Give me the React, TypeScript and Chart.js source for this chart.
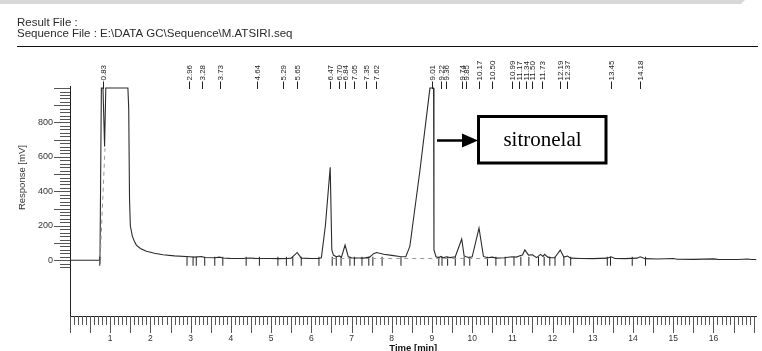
import React, { useEffect, useRef } from 'react';
import { Chart, registerables } from 'chart.js';

Chart.register(...registerables);

// ---- data ----
const headerLines = ['Result File :', 'Sequence File : E:\\DATA GC\\Sequence\\M.ATSIRI.seq'];
const yAxisTitle = 'Response [mV]';
const xAxisTitle = 'Time [min]';
const annotationText = 'sitronelal';

const xTickLabels = [1, 2, 3, 4, 5, 6, 7, 8, 9, 10, 11, 12, 13, 14, 15, 16];
const yTickLabels = [0, 200, 400, 600, 800];

const traceTime = [
  0, 0.74, 0.745, 0.78, 0.82, 0.86, 0.89, 1.44, 1.46, 1.48, 1.5, 1.55, 1.6, 1.65, 1.75, 1.9, 2.1, 2.31, 2.6, 2.98,
  3.1, 3.27, 3.35, 3.6, 3.72, 3.8, 3.97, 4.3, 4.45, 4.6, 4.75, 5.0, 5.2, 5.4, 5.5, 5.65, 5.75, 6.0, 6.19, 6.25,
  6.35, 6.47, 6.51, 6.55, 6.62, 6.7, 6.75, 6.84, 6.92, 7.0, 7.1, 7.3, 7.45, 7.55, 7.62, 7.7, 7.8, 8.0, 8.2, 8.35,
  8.45, 8.7, 8.95, 9.04, 9.05, 9.1, 9.17, 9.22, 9.28, 9.36, 9.45, 9.58, 9.74, 9.8, 9.85, 9.92, 10.0, 10.17, 10.28, 10.38,
  10.5, 10.6, 10.8, 10.99, 11.1, 11.17, 11.25, 11.31, 11.4, 11.5, 11.6, 11.7, 11.76, 11.8, 11.88, 11.95, 12.05, 12.19, 12.28, 12.37,
  12.45, 12.7, 13.0, 13.36, 13.45, 13.55, 13.8, 14.1, 14.18, 14.3, 14.6, 15.0, 15.1, 15.5, 16.0, 16.1, 16.6, 16.85, 16.95, 17.07,
];
const traceMv = [
  0, 0, -20, 1000, 1000, 660, 1000, 1000, 880, 360, 200, 140, 110, 88, 68, 52, 40, 32, 25, 20,
  18, 22, 16, 14, 18, 13, 11, 10, 13, 11, 10, 10, 9, 10, 12, 45, 12, 10, 10, 14,
  200, 540, 60, 30, 20, 25, 18, 88, 20, 14, 12, 12, 18, 38, 45, 40, 35, 28, 22, 20,
  80, 520, 1000, 1000, 60, 20, 15, 22, 14, 20, 15, 20, 123, 25, 20, 16, 20, 187, 22, 14,
  18, 12, 14, 20, 18, 24, 30, 60, 30, 32, 15, 34, 22, 34, 18, 15, 14, 59, 18, 24,
  12, 10, 9, 12, 20, 10, 9, 12, 20, 9, 7, 10, 6, 5, 8, 5, 4, 7, 4, 4,
];

const baselineTime = [0.745, 0.87, 0.87, 6.52, 10.45];
const baselineMv = [-20, 650, null, 10, 10];

const markerTimes = [
  0.74, 2.91, 3.06, 3.14, 3.35, 3.6, 3.8, 4.38, 4.71, 5.17, 5.38, 5.54, 5.75, 6.19, 6.52, 6.62, 6.74, 6.96, 7.07, 7.26,
  7.43, 7.53, 7.76, 8.23, 9.17, 9.25, 9.39, 9.58, 9.8, 9.94, 10.38, 10.59, 10.82, 11.04, 11.21, 11.41, 11.65, 11.79, 11.93, 12.06,
  12.28, 12.45, 13.36, 13.44, 13.98, 14.31,
];

const peakLabels = [
  '0.83', '2.96', '3.28', '3.73', '4.64', '5.29', '5.65', '6.47', '6.70', '6.84', '7.05', '7.35', '7.62',
  '9.01', '9.22', '9.36', '9.74', '9.85', '10.17', '10.50', '10.99', '11.17', '11.34', '11.50', '11.73',
  '12.19', '12.37', '13.45', '14.18',
];

const SANS = "'Liberation Sans', Arial, sans-serif";
const SERIF = "'Liberation Serif', 'Times New Roman', serif";

const decorPlugin = {
  id: 'decor',
  beforeDraw(chart: any) {
    const { ctx, width, height } = chart;
    ctx.save();
    ctx.fillStyle = '#ffffff';
    ctx.fillRect(0, 0, width, height);
    ctx.fillStyle = '#d8d8d8';
    ctx.beginPath();
    ctx.moveTo(0, 0);
    ctx.lineTo(745, 0);
    ctx.lineTo(741, 4);
    ctx.lineTo(0, 4);
    ctx.closePath();
    ctx.fill();
    ctx.restore();
  },
  afterDraw(chart: any) {
    const { ctx, chartArea } = chart;
    const xs = chart.scales.x;
    const ys = chart.scales.y;
    ctx.save();

    // header
    ctx.fillStyle = '#2a2a2a';
    ctx.font = `11.5px ${SANS}`;
    ctx.textAlign = 'left';
    ctx.textBaseline = 'alphabetic';
    ctx.fillText(headerLines[0], 17, 25.5);
    ctx.fillText(headerLines[1], 17, 37.3);

    // horizontal rule
    ctx.strokeStyle = '#111';
    ctx.lineWidth = 1.2;
    ctx.beginPath();
    ctx.moveTo(17, 46.5);
    ctx.lineTo(758, 46.5);
    ctx.stroke();

    // y comb
    ctx.strokeStyle = '#555';
    ctx.lineWidth = 1;
    ctx.beginPath();
    for (let v = -40; v <= 1000; v += 20) {
      const py = Math.round(ys.getPixelForValue(v)) + 0.5;
      const len = v % 100 === 0 ? 16 : 10;
      ctx.moveTo(chartArea.left, py);
      ctx.lineTo(chartArea.left - len, py);
    }
    ctx.stroke();

    // x comb
    ctx.beginPath();
    for (let i = 0; i <= 170; i++) {
      const t = i / 10;
      const px = Math.round(xs.getPixelForValue(t)) + 0.5;
      if (px > chartArea.right + 1) break;
      const len = i % 5 === 0 ? 17 : 9;
      ctx.moveTo(px, chartArea.bottom);
      ctx.lineTo(px, chartArea.bottom + len);
    }
    ctx.stroke();

    // y title
    ctx.save();
    ctx.fillStyle = '#333';
    ctx.font = `9.5px ${SANS}`;
    ctx.translate(22.5, (ys.getPixelForValue(-40) + ys.getPixelForValue(1000)) / 2);
    ctx.rotate(-Math.PI / 2);
    ctx.textAlign = 'center';
    ctx.textBaseline = 'middle';
    ctx.fillText(yAxisTitle, 0, 0);
    ctx.restore();

    // peak labels
    ctx.font = `8px ${SANS}`;
    ctx.fillStyle = '#222';
    ctx.strokeStyle = '#222';
    peakLabels.forEach((lab) => {
      const px = Math.round(xs.getPixelForValue(parseFloat(lab))) + 0.5;
      ctx.beginPath();
      ctx.moveTo(px, 89);
      ctx.lineTo(px, 81.5);
      ctx.stroke();
      ctx.save();
      ctx.translate(px, 80.5);
      ctx.rotate(-Math.PI / 2);
      ctx.textAlign = 'left';
      ctx.textBaseline = 'middle';
      ctx.fillText(lab, 0, 0);
      ctx.restore();
    });

    // annotation arrow + box
    ctx.strokeStyle = '#000';
    ctx.fillStyle = '#000';
    ctx.lineWidth = 2.5;
    ctx.beginPath();
    ctx.moveTo(437, 140.5);
    ctx.lineTo(465, 140.5);
    ctx.stroke();
    ctx.beginPath();
    ctx.moveTo(462, 133.5);
    ctx.lineTo(478, 140.5);
    ctx.lineTo(462, 147.5);
    ctx.closePath();
    ctx.fill();
    ctx.lineWidth = 3;
    ctx.strokeRect(478.5, 116.5, 127.5, 46.5);
    ctx.font = `21px ${SERIF}`;
    ctx.textAlign = 'center';
    ctx.textBaseline = 'middle';
    ctx.fillText(annotationText, 542.5, 140);

    ctx.restore();
  },
};

export default function App() {
  const canvasRef = useRef<HTMLCanvasElement | null>(null);

  useEffect(() => {
    const canvas = canvasRef.current;
    if (!canvas) return;
    const trace = traceTime.map((t, i) => ({ x: t, y: traceMv[i] }));
    const base = baselineTime.map((t, i) => ({ x: t, y: baselineMv[i] }));
    const markers = markerTimes.map((t) => ({ x: t, y: -6 }));

    const chart = new Chart(canvas, {
      type: 'line',
      data: {
        datasets: [
          {
            data: base as any,
            borderColor: '#9a9a9a',
            borderWidth: 1,
            borderDash: [4, 4],
            pointRadius: 0,
            spanGaps: false,
            tension: 0,
          },
          {
            data: trace as any,
            borderColor: '#2b2b2b',
            borderWidth: 1.1,
            pointRadius: 0,
            tension: 0,
          },
          {
            data: markers as any,
            showLine: false,
            pointStyle: 'line',
            rotation: 90,
            pointRadius: 4.5,
            pointBorderColor: '#222',
            pointBorderWidth: 1,
            borderColor: '#222',
          } as any,
        ],
      },
      options: {
        responsive: false,
        animation: false,
        events: [],
        layout: { padding: { top: 86, right: 4, left: 0, bottom: 0 } },
        plugins: { legend: { display: false }, tooltip: { enabled: false }, title: { display: false } },
        scales: {
          x: {
            type: 'linear',
            min: 0,
            max: 17.07,
            afterBuildTicks: (s: any) => {
              s.ticks = xTickLabels.map((v) => ({ value: v }));
            },
            afterFit: (s: any) => {
              s.height = 35;
            },
            grid: { display: false, drawTicks: false },
            border: { display: true, color: '#222', width: 1 },
            ticks: {
              autoSkip: false,
              maxRotation: 0,
              padding: 18,
              color: '#333',
              font: { size: 8.5, family: SANS },
            },
            title: {
              display: true,
              text: xAxisTitle,
              color: '#111',
              font: { size: 9.5, family: SANS, weight: 'bold' },
              padding: { top: 0, bottom: -3.5 },
            },
          },
          y: {
            type: 'linear',
            min: -324,
            max: 1012,
            afterBuildTicks: (s: any) => {
              s.ticks = yTickLabels.map((v) => ({ value: v }));
            },
            afterFit: (s: any) => {
              s.width = 70;
            },
            grid: { display: false, drawTicks: false },
            border: { display: true, color: '#222', width: 1 },
            ticks: {
              padding: 17,
              color: '#333',
              font: { size: 9, family: SANS },
            },
          },
        },
      },
      plugins: [decorPlugin],
    } as any);

    return () => chart.destroy();
  }, []);

  return (
    <div style={{ position: 'fixed', left: 0, top: 0, width: 762, height: 351, background: '#fff' }}>
      <canvas ref={canvasRef} width={762} height={351} style={{ display: 'block', width: 762, height: 351 }} />
    </div>
  );
}
